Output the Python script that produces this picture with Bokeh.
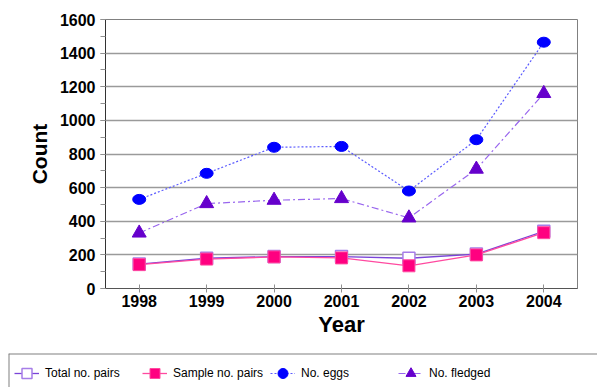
from bokeh.plotting import figure
from bokeh.models import (Range1d, FixedTicker, SingleIntervalTicker, Legend, LegendItem,
                          ColumnDataSource, Span)
from bokeh.embed import file_html
from bokeh.resources import INLINE

years = [1998, 1999, 2000, 2001, 2002, 2003, 2004]
total_pairs = [145, 180, 190, 190, 180, 205, 340]
sample_pairs = [142, 175, 188, 182, 135, 200, 332]
eggs = [530, 685, 840, 845, 580, 885, 1465]
fledged = [330, 505, 525, 535, 420, 710, 1160]
series_names = ["Total no. pairs", "Sample no. pairs", "No. eggs", "No. fledged"]
y_ticks_interval = 200

FONT = "Liberation Sans"

# styles per series
ST = {
    "total": dict(line=dict(line_color="#7a44d8", line_width=1.3),
                  mark=dict(marker="square", size=12, fill_color="white", line_color="#a67ee8", line_width=1.5)),
    "sample": dict(line=dict(line_color="#ff4aa0", line_width=1.3),
                   mark=dict(marker="square", size=12, fill_color="#ff0080", line_color="#ff4aa0", line_width=1)),
    "eggs": dict(line=dict(line_color="#5b5bff", line_width=1.2, line_dash="2 2"),
                 mark=dict(fill_color="#0000ff", line_color="#0000ff")),
    "fledged": dict(line=dict(line_color="#9966ee", line_width=1.2, line_dash="7 3 2 3"),
                    mark=dict(marker="triangle", size=14, fill_color="#6600cc", line_color="#6600cc")),
}

p = figure(width=597, height=353, output_backend="svg", toolbar_location=None,
           x_range=Range1d(1997.5, 2004.5), y_range=Range1d(0, 1600),
           min_border_left=105, min_border_right=20, min_border_top=19, min_border_bottom=65)
p.background_fill_color = "white"
p.border_fill_color = "white"
p.outline_line_color = "#808080"
p.outline_line_width = 1

src = ColumnDataSource(dict(x=years, total=total_pairs, sample=sample_pairs, eggs=eggs, fledged=fledged))

p.line("x", "total", source=src, **ST["total"]["line"])
p.scatter("x", "total", source=src, **ST["total"]["mark"])
p.line("x", "sample", source=src, **ST["sample"]["line"])
p.scatter("x", "sample", source=src, **ST["sample"]["mark"])
p.line("x", "eggs", source=src, **ST["eggs"]["line"])
p.ellipse("x", "eggs", source=src, width=13, height=10, width_units="screen", height_units="screen",
          **ST["eggs"]["mark"])
p.line("x", "fledged", source=src, **ST["fledged"]["line"])
p.scatter("x", "fledged", source=src, **ST["fledged"]["mark"])

# axes
xa = p.xaxis[0]
xa.ticker = FixedTicker(ticks=years)
xa.axis_label = "Year"
xa.axis_label_text_font = FONT
xa.axis_label_text_font_style = "bold"
xa.axis_label_text_font_size = "22px"
xa.axis_label_text_color = "black"
xa.axis_label_standoff = 2
xa.major_label_text_font = FONT
xa.major_label_text_font_style = "bold"
xa.major_label_text_font_size = "16px"
xa.major_label_text_color = "black"
xa.major_label_standoff = 2
xa.major_tick_in = 4
xa.major_tick_out = 4
xa.minor_tick_line_color = None
xa.major_tick_line_color = "#909090"
xa.axis_line_color = "#555555"

ya = p.yaxis[0]
ya.ticker = SingleIntervalTicker(interval=y_ticks_interval, num_minor_ticks=2)
ya.axis_label = "Count"
ya.axis_label_text_font = FONT
ya.axis_label_text_font_style = "bold"
ya.axis_label_text_font_size = "21px"
ya.axis_label_text_color = "black"
ya.axis_label_standoff = 6
ya.major_label_text_font = FONT
ya.major_label_text_font_style = "bold"
ya.major_label_text_font_size = "16px"
ya.major_label_text_color = "black"
ya.major_label_standoff = 5
ya.major_tick_in = 0
ya.major_tick_out = 5
ya.minor_tick_in = 0
ya.minor_tick_out = 5
ya.major_tick_line_color = "#909090"
ya.minor_tick_line_color = "#909090"
ya.axis_line_color = "#333333"

p.xgrid.grid_line_color = None
p.ygrid.grid_line_color = "#9a9a9a"
p.ygrid.grid_line_width = 1.3

# legend strip (separate root, below the chart)
lf = figure(width=597, height=34, output_backend="svg", toolbar_location=None,
            x_range=Range1d(0, 1), y_range=Range1d(0, 1),
            x_axis_type=None, y_axis_type=None,
            min_border_left=8, min_border_right=0, min_border_top=0, min_border_bottom=0)
lf.outline_line_color = None
lf.grid.grid_line_color = None
lf.background_fill_color = "white"
lf.border_fill_color = "white"

nan = float("nan")
dummy = ColumnDataSource(dict(x=[nan], y=[nan]))
legend_marks = {
    "total": dict(marker="square", size=10, fill_color="white", line_color="#a67ee8", line_width=1.5),
    "sample": dict(marker="square", size=10, fill_color="#ff0080", line_color="#ff4aa0", line_width=1),
    "eggs": dict(marker="circle", size=9, fill_color="#0000ff", line_color="#0000ff"),
    "fledged": dict(marker="triangle", size=11, fill_color="#6600cc", line_color="#6600cc"),
}
items = []
for key, name in zip(["total", "sample", "eggs", "fledged"], series_names):
    lr = lf.line("x", "y", source=dummy, **ST[key]["line"])
    mr = lf.scatter("x", "y", source=dummy, **legend_marks[key])
    items.append(LegendItem(label=name, renderers=[lr, mr]))

legend = Legend(items=items, orientation="horizontal", location=(6, 1), margin=0, padding=7,
                glyph_width=25, glyph_height=26, label_standoff=6, label_width=97, spacing=0,
                label_text_font=FONT, label_text_font_size="12px", label_text_color="black",
                border_line_color=None, background_fill_alpha=0)
lf.add_layout(legend, "center")
lf.add_layout(Span(location=1, dimension="width", line_color="#808080", line_width=2))
lf.add_layout(Span(location=0, dimension="height", line_color="#808080", line_width=2))

open("out.html", "w").write(file_html([p, lf], INLINE))
